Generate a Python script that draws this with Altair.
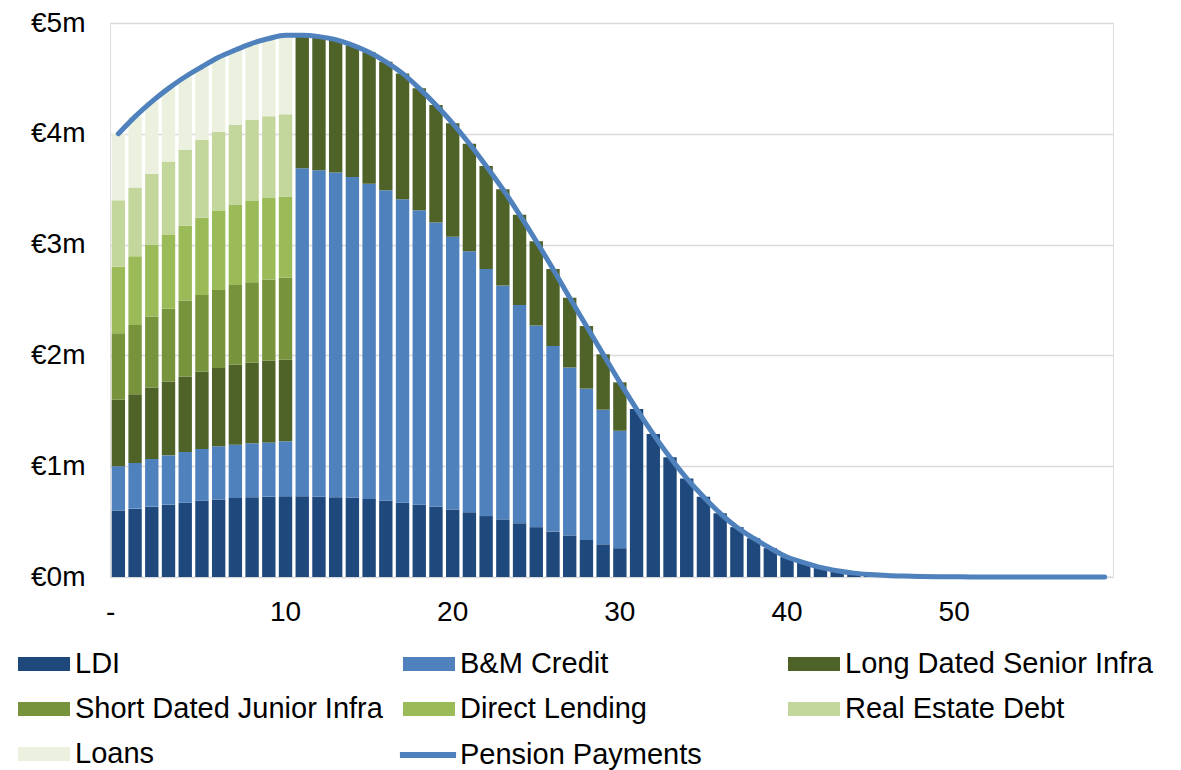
import altair as alt
import pandas as pd

# Years of the cash-flow projection (0 = today)
YEARS = list(range(60))

SERIES = [
    "LDI",
    "B&M Credit",
    "Long Dated Senior Infra",
    "Short Dated Junior Infra",
    "Direct Lending",
    "Real Estate Debt",
    "Loans",
]
SERIES_COLORS = ["#1F497D", "#4F81BD", "#4F6228", "#77933C", "#9BBB59", "#C3D69B", "#EBF1DE"]
LINE_NAME = "Pension Payments"
LINE_COLOR = "#4F81BD"

# Cash flow provided by each asset class, €m per year
LDI = [0.600, 0.617, 0.635, 0.653, 0.670, 0.690, 0.700, 0.713, 0.720, 0.725, 0.728,
       0.728, 0.725, 0.720, 0.716, 0.704, 0.690, 0.670, 0.653, 0.635, 0.610,
       0.585, 0.550, 0.520, 0.485, 0.450, 0.410, 0.375, 0.335, 0.295, 0.260,
       1.516, 1.290, 1.080, 0.890, 0.725, 0.575, 0.450, 0.350, 0.260, 0.180,
       0.130, 0.087, 0.057, 0.035, 0.022, 0.013, 0.008, 0.005, 0.003, 0.002,
       0.001, 0.001, 0.001, 0.001, 0.001, 0.001, 0.001, 0.001, 0.001]
BM_CREDIT = [0.400, 0.413, 0.430, 0.445, 0.458, 0.465, 0.480, 0.481, 0.487, 0.490, 0.497,
             2.962, 2.945, 2.930, 2.894, 2.846, 2.800, 2.740, 2.657, 2.565, 2.460,
             2.355, 2.230, 2.110, 1.970, 1.820, 1.675, 1.515, 1.365, 1.215, 1.060] + [0.0] * 29
LONG_SENIOR_INFRA = [0.600, 0.620, 0.645, 0.667, 0.682, 0.698, 0.706, 0.722, 0.727, 0.737, 0.735,
                     1.200, 1.207, 1.200, 1.190, 1.185, 1.160, 1.135, 1.100, 1.060, 1.025,
                     0.970, 0.930, 0.870, 0.815, 0.760, 0.695, 0.630, 0.565, 0.500, 0.437] + [0.0] * 29
SHORT_JUNIOR_INFRA = [0.600, 0.625, 0.640, 0.655, 0.685, 0.692, 0.704, 0.719, 0.726, 0.733, 0.740] + [0.0] * 49
DIRECT_LENDING = [0.600, 0.619, 0.650, 0.667, 0.675, 0.698, 0.713, 0.722, 0.734, 0.735, 0.735] + [0.0] * 49
REAL_ESTATE_DEBT = [0.600, 0.621, 0.640, 0.663, 0.684, 0.701, 0.713, 0.723, 0.731, 0.738, 0.741] + [0.0] * 49
LOANS = [0.600, 0.640, 0.650, 0.660, 0.661, 0.661, 0.674, 0.676, 0.692, 0.702, 0.714] + [0.0] * 49

# Liability cash flow to be met, €m per year
PENSION_PAYMENTS = [4.000, 4.155, 4.290, 4.410, 4.515, 4.605, 4.690, 4.756, 4.817, 4.860, 4.890,
                    4.890, 4.877, 4.850, 4.800, 4.735, 4.650, 4.545, 4.410, 4.260, 4.095,
                    3.910, 3.710, 3.500, 3.270, 3.030, 2.780, 2.520, 2.265, 2.010, 1.757,
                    1.516, 1.290, 1.080, 0.890, 0.725, 0.575, 0.450, 0.350, 0.260, 0.180,
                    0.130, 0.087, 0.057, 0.035, 0.022, 0.013, 0.008, 0.005, 0.003, 0.002,
                    0.001, 0.001, 0.001, 0.001, 0.001, 0.001, 0.001, 0.001, 0.001]

X_TICKS = [0, 10, 20, 30, 40, 50]
Y_TICKS = [0, 1, 2, 3, 4, 5]

series_values = [LDI, BM_CREDIT, LONG_SENIOR_INFRA, SHORT_JUNIOR_INFRA,
                 DIRECT_LENDING, REAL_ESTATE_DEBT, LOANS]
rows = []
for k, (name, vals) in enumerate(zip(SERIES, series_values)):
    for yr, v in zip(YEARS, vals):
        rows.append({"year": yr, "series": name, "value": v, "k": k})
bar_df = pd.DataFrame(rows)
line_df = pd.DataFrame({"year": YEARS, "series": LINE_NAME, "value": PENSION_PAYMENTS})

FONT = "Liberation Sans"

# year 0 is shown as an accounting-style dash, nudged left by padding spaces
# (a trailing word joiner keeps the spaces from being trimmed)
x_enc = alt.X(
    "year:O",
    scale=alt.Scale(paddingInner=0.2, paddingOuter=0.1),
    axis=alt.Axis(
        values=X_TICKS,
        labelExpr="datum.value == 0 ? '-\u00a0\u00a0\u2060' : datum.label",
        title=None, ticks=False, domain=False, grid=False, labelAngle=0,
        labelPadding=21, labelFontSize=28, labelColor="#000000", labelFont=FONT,
    ),
)

y_axis = alt.Axis(
    values=Y_TICKS,
    labelExpr="'€' + datum.value + 'm'",
    title=None, ticks=False, domain=False,
    gridColor="#D9D9D9", gridWidth=1.3,
    labelPadding=25, labelFontSize=28, labelColor="#000000", labelFont=FONT,
)
y_scale = alt.Scale(domain=[0, 5], nice=False)

legend_text = dict(labelLimit=400, labelFontSize=29, labelFont=FONT, labelColor="#000000")

bar_legend = alt.Legend(
    title=None,
    orient="none",
    direction="horizontal",
    legendX=-92,
    legendY=615,
    columns=3,
    gridAlign="all",
    columnPadding=20,
    rowPadding=4,
    padding=0,
    symbolType="M-1,-0.27H1V0.27H-1Z",
    symbolSize=2704,
    symbolStrokeWidth=0,
    symbolOpacity=1,
    labelOffset=5,
    **legend_text,
)

line_legend = alt.Legend(
    title=None,
    orient="none",
    legendX=289,
    legendY=703,
    padding=0,
    symbolType="M-1.08,0H1.08",
    symbolSize=2704,
    symbolStrokeWidth=6,
    symbolOpacity=1,
    labelOffset=3,
    **legend_text,
)

bars = alt.Chart(bar_df).mark_bar().encode(
    x=x_enc,
    y=alt.Y("value:Q", stack="zero", scale=y_scale, axis=y_axis),
    fill=alt.Fill("series:N", scale=alt.Scale(domain=SERIES, range=SERIES_COLORS), legend=bar_legend),
    order=alt.Order("k:Q", sort="ascending"),
)

line = alt.Chart(line_df).mark_line(
    strokeWidth=5, interpolate="monotone", strokeCap="round"
).encode(
    x=x_enc,
    y=alt.Y("value:Q", scale=y_scale, axis=y_axis),
    stroke=alt.Stroke("series:N", scale=alt.Scale(domain=[LINE_NAME], range=[LINE_COLOR]), legend=line_legend),
)

chart = (
    alt.layer(bars, line)
    .properties(
        width=1003,
        height=554,
        autosize=alt.AutoSizeParams(type="none"),
        padding={"left": 110, "top": 23, "right": 68, "bottom": 193},
    )
    .configure_view(stroke=None)
    .configure(font=FONT, background="#FFFFFF")
)

chart.save("out.html", embed_options={"renderer": "svg", "actions": False})
